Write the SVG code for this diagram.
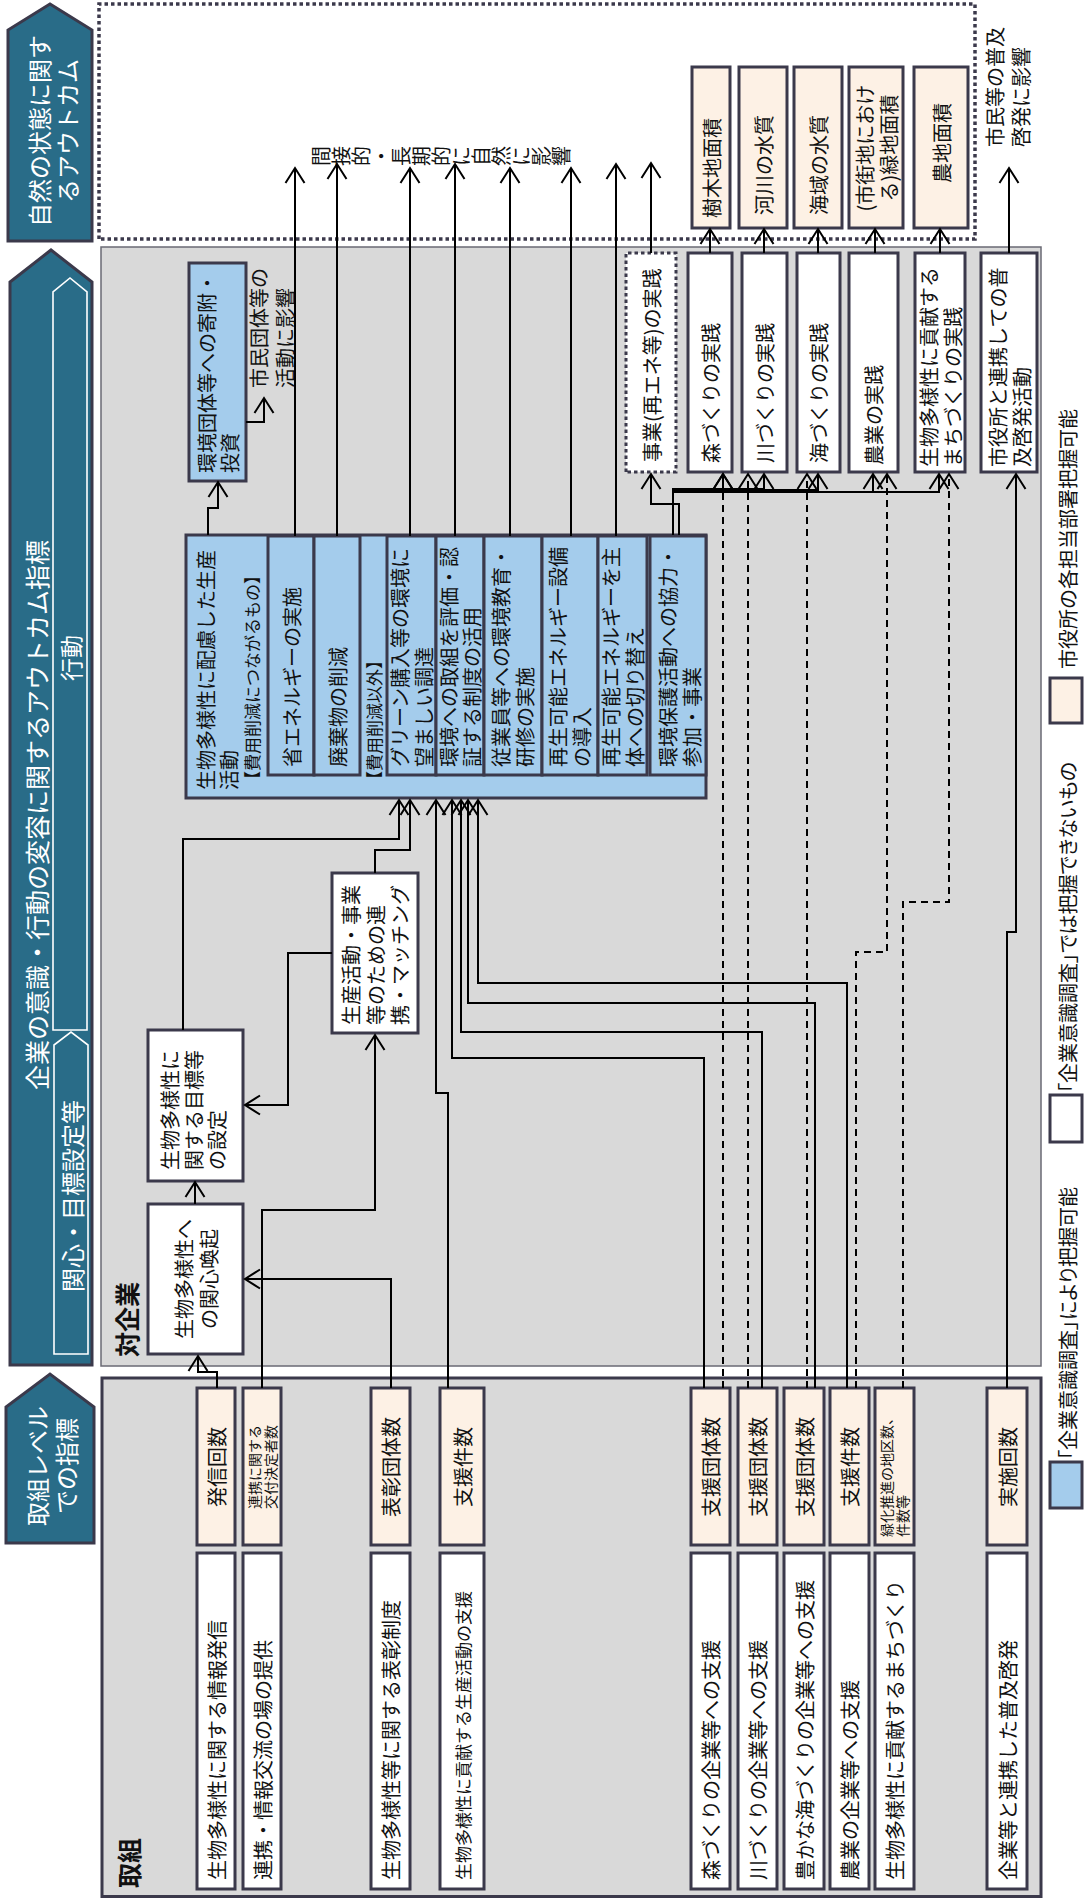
<svg xmlns="http://www.w3.org/2000/svg" width="1084" height="1898" viewBox="0 0 1084 1898">
<defs>
<style>
.t{font-family:"Noto Sans CJK JP","Noto Sans CJK SC",sans-serif;font-size:20px;fill:#111;dominant-baseline:central}
.wt{fill:#fff;text-anchor:middle;font-size:24px}
.m{text-anchor:middle}
.bd{font-weight:bold;font-size:25px}
.sm{font-size:17px}
.xs{font-size:14px}
.pa{font-feature-settings:"palt"}
.bx{stroke:#3b394b;stroke-width:3}
.w{fill:#fff}.b{fill:#a4ccec}.p{fill:#fdf1e5}
.hd{fill:#296c88;stroke:#3b394b;stroke-width:3}
.in{fill:none;stroke:#fff;stroke-width:1.6}
.c{fill:none;stroke:#000;stroke-width:2;marker-end:url(#ah)}
.d{stroke-dasharray:7 5}
.dot{stroke-dasharray:3.5 3}
</style>
<marker id="ah" markerUnits="userSpaceOnUse" markerWidth="18" markerHeight="22" viewBox="0 0 18 22" refX="16" refY="11" orient="auto">
<path d="M1,1.5 L16,11 L1,20.5" fill="none" stroke="#000" stroke-width="2"/>
</marker>
</defs>
<rect width="1084" height="1898" fill="#fff"/>
<g transform="matrix(0,-1,1,0,0,1898)">
<g id="area-outcome"><rect x="1659" y="99" width="235" height="876" fill="#fff" stroke="#3b394b" stroke-width="3.5" class="dot"/></g>
<g id="area-company"><rect x="532" y="101" width="1119" height="940" fill="#d9d9d9" stroke="#6a6a74" stroke-width="1.5"/><text class="t bd" x="541" y="126">対企業</text></g>
<g id="area-initiative"><rect x="1.5" y="102" width="518.5" height="939" fill="#d9d9d9" class="bx"/><text class="t bd" x="10" y="128">取組</text></g>

<g id="h-nature"><polygon class="hd" points="1657,8 1868,8 1894,50 1868,92 1657,92"/><text class="t wt"><tspan x="1767" y="38">自然の状態に関す</tspan><tspan x="1767" y="66">るアウトカム</tspan></text></g>
<g id="h-company"><polygon class="hd" points="533,10 1616,10 1648,51 1616,92 533,92"/><polygon class="in" points="868,53 1606,53 1620,70 1606,87 868,87"/><polygon class="in" points="544,54 853,54 866,71 853,88 544,88"/><text class="t wt" x="1083" y="36" style="font-size:25px">企業の意識・行動の変容に関するアウトカム指標</text><text class="t wt" x="1240" y="70" style="font-size:23px">行動</text><text class="t wt" x="702" y="71">関心・目標設定等</text></g>
<g id="h-initiative"><polygon class="hd" points="355,6 491,6 524,50 491,94 355,94"/><text class="t wt"><tspan x="432" y="36">取組レベル</tspan><tspan x="432" y="65">での指標</tspan></text></g>

<g id="n-production"><rect class="bx b" x="1100" y="186" width="263" height="520"/><text class="t"><tspan x="1108" y="205">生物多様性に配慮した生産</tspan><tspan x="1108" y="228">活動</tspan></text><text class="t sm" x="1110" y="251">【費用削減につながるもの】</text><text class="t sm" x="1110" y="373">【費用削減以外】</text></g>
<g id="n-energy"><rect class="bx b" x="1123" y="268" width="239" height="46"/><text class="t" x="1131" y="291">省エネルギーの実施</text></g>
<g id="n-waste"><rect class="bx b" x="1123" y="314" width="239" height="46"/><text class="t" x="1131" y="337">廃棄物の削減</text></g>
<g id="n-green"><rect class="bx b" x="1123" y="387" width="239" height="49"/><text class="t"><tspan x="1131" y="399">グリーン購入等の環境に</tspan><tspan x="1131" y="423">望ましい調達</tspan></text></g>
<g id="n-cert"><rect class="bx b" x="1123" y="436" width="239" height="48"/><text class="t"><tspan x="1131" y="448">環境への取組を評価・認</tspan><tspan x="1131" y="471">証する制度の活用</tspan></text></g>
<g id="n-edu"><rect class="bx b" x="1123" y="484" width="239" height="58"/><text class="t"><tspan x="1131" y="500">従業員等への環境教育・</tspan><tspan x="1131" y="524">研修の実施</tspan></text></g>
<g id="n-re-equip"><rect class="bx b" x="1123" y="542" width="239" height="56"/><text class="t"><tspan x="1131" y="557">再生可能エネルギー設備</tspan><tspan x="1131" y="581">の導入</tspan></text></g>
<g id="n-re-switch"><rect class="bx b" x="1123" y="598" width="239" height="49"/><text class="t"><tspan x="1131" y="610">再生可能エネルギーを主</tspan><tspan x="1131" y="634">体への切り替え</tspan></text></g>
<g id="n-conserve"><rect class="bx b" x="1123" y="650" width="239" height="56"/><text class="t"><tspan x="1131" y="667">環境保護活動への協力・</tspan><tspan x="1131" y="691">参加・事業</tspan></text></g>
<g id="n-donation"><rect class="bx b" x="1417" y="189" width="218" height="57"/><text class="t"><tspan x="1425" y="206">環境団体等への寄附・</tspan><tspan x="1425" y="229">投資</tspan></text></g>

<g id="n-interest"><rect class="bx w" x="544" y="148" width="150" height="95"/><text class="t m"><tspan x="619" y="183">生物多様性へ</tspan><tspan x="619" y="208">の関心喚起</tspan></text></g>
<g id="n-target"><rect class="bx w" x="717" y="148" width="151" height="95"/><text class="t"><tspan x="728" y="169">生物多様性に</tspan><tspan x="728" y="193">関する目標等</tspan><tspan x="728" y="216">の設定</tspan></text></g>
<g id="n-matching"><rect class="bx w" x="865" y="332" width="160" height="86"/><text class="t"><tspan x="873" y="350">生産活動・事業</tspan><tspan x="873" y="375">等のための連</tspan><tspan x="873" y="399">携・マッチング</tspan></text></g>

<g id="n-business"><rect class="bx w dot" x="1426" y="626" width="219" height="50"/><text class="t" x="1436" y="651">事業(再エネ等)の実践</text></g>
<g id="n-forest"><rect class="bx w" x="1426" y="688" width="219" height="44"/><text class="t" x="1435" y="710">森づくりの実践</text></g>
<g id="n-river"><rect class="bx w" x="1426" y="742" width="219" height="45"/><text class="t" x="1435" y="764">川づくりの実践</text></g>
<g id="n-sea"><rect class="bx w" x="1426" y="797" width="219" height="43"/><text class="t" x="1435" y="818">海づくりの実践</text></g>
<g id="n-farm"><rect class="bx w" x="1426" y="849" width="219" height="49"/><text class="t" x="1433" y="873">農業の実践</text></g>
<g id="n-town"><rect class="bx w" x="1426" y="915" width="219" height="50"/><text class="t"><tspan x="1431" y="928">生物多様性に貢献する</tspan><tspan x="1431" y="952">まちづくりの実践</tspan></text></g>
<g id="n-city"><rect class="bx w" x="1426" y="981" width="219" height="56"/><text class="t"><tspan x="1431" y="997">市役所と連携しての普</tspan><tspan x="1431" y="1021">及啓発活動</tspan></text></g>

<g id="o-tree"><rect class="bx p" x="1670" y="692" width="161" height="38"/><text class="t" x="1680" y="711">樹木地面積</text></g>
<g id="o-river"><rect class="bx p" x="1670" y="739" width="161" height="48"/><text class="t" x="1683" y="763">河川の水質</text></g>
<g id="o-sea"><rect class="bx p" x="1670" y="794" width="161" height="48"/><text class="t" x="1683" y="818">海域の水質</text></g>
<g id="o-green"><rect class="bx p" x="1670" y="849" width="161" height="54"/><text class="t m"><tspan x="1750" y="864">(市街地におけ</tspan><tspan x="1750" y="888">る)緑地面積</tspan></text></g>
<g id="o-farm"><rect class="bx p" x="1670" y="914" width="161" height="54"/><text class="t m" x="1755" y="941">農地面積</text></g>

<g id="lbl-citizen"><text class="t"><tspan x="1751" y="994">市民等の普及</tspan><tspan x="1751" y="1020">啓発に影響</tspan></text></g>
<g id="lbl-group"><text class="t"><tspan x="1510" y="258">市民団体等の</tspan><tspan x="1510" y="284">活動に影響</tspan></text></g>
<g id="lbl-indirect"><text class="t m"><tspan x="1742" y="320">間</tspan><tspan x="1742" y="340">接</tspan><tspan x="1742" y="360">的</tspan><tspan x="1742" y="380">・</tspan><tspan x="1742" y="400">長</tspan><tspan x="1742" y="420">期</tspan><tspan x="1742" y="440">的</tspan><tspan x="1742" y="460">に</tspan><tspan x="1742" y="480">自</tspan><tspan x="1742" y="500">然</tspan><tspan x="1742" y="520">に</tspan><tspan x="1742" y="540">影</tspan><tspan x="1742" y="560">響</tspan></text></g>

<g id="a-info"><rect class="bx w" x="9" y="197" width="336" height="38"/><text class="t" x="18" y="216">生物多様性に関する情報発信</text></g>
<g id="a-exchange"><rect class="bx w" x="9" y="243" width="336" height="38"/><text class="t" x="18" y="262">連携・情報交流の場の提供</text></g>
<g id="a-award"><rect class="bx w" x="9" y="371" width="336" height="39"/><text class="t" x="18" y="390">生物多様性等に関する表彰制度</text></g>
<g id="a-prodsupport"><rect class="bx w" x="9" y="440" width="336" height="44"/><text class="t sm" x="18" y="462">生物多様性に貢献する生産活動の支援</text></g>
<g id="a-forest"><rect class="bx w" x="9" y="691" width="336" height="39"/><text class="t" x="18" y="710">森づくりの企業等への支援</text></g>
<g id="a-river"><rect class="bx w" x="9" y="738" width="336" height="39"/><text class="t" x="18" y="757">川づくりの企業等への支援</text></g>
<g id="a-sea"><rect class="bx w" x="9" y="784" width="336" height="40"/><text class="t" x="18" y="804">豊かな海づくりの企業等への支援</text></g>
<g id="a-farm"><rect class="bx w" x="9" y="830" width="336" height="39"/><text class="t" x="18" y="849">農業の企業等への支援</text></g>
<g id="a-town"><rect class="bx w" x="9" y="875" width="336" height="39"/><text class="t" x="18" y="894">生物多様性に貢献するまちづくり</text></g>
<g id="a-pr"><rect class="bx w" x="9" y="987" width="336" height="40"/><text class="t" x="18" y="1007">企業等と連携した普及啓発</text></g>

<g id="i-send"><rect class="bx p" x="353" y="197" width="157" height="38"/><text class="t m" x="431" y="216">発信回数</text></g>
<g id="i-grant"><rect class="bx p" x="353" y="243" width="157" height="38"/><text class="t m xs"><tspan x="431" y="254">連携に関する</tspan><tspan x="431" y="270">交付決定者数</tspan></text></g>
<g id="i-award"><rect class="bx p" x="353" y="371" width="157" height="39"/><text class="t m" x="431" y="390">表彰団体数</text></g>
<g id="i-prod"><rect class="bx p" x="353" y="440" width="157" height="44"/><text class="t m" x="431" y="462">支援件数</text></g>
<g id="i-forest"><rect class="bx p" x="353" y="691" width="157" height="39"/><text class="t m" x="431" y="710">支援団体数</text></g>
<g id="i-river"><rect class="bx p" x="353" y="738" width="157" height="39"/><text class="t m" x="431" y="757">支援団体数</text></g>
<g id="i-sea"><rect class="bx p" x="353" y="784" width="157" height="40"/><text class="t m" x="431" y="804">支援団体数</text></g>
<g id="i-farm"><rect class="bx p" x="353" y="830" width="157" height="39"/><text class="t m" x="431" y="849">支援件数</text></g>
<g id="i-town"><rect class="bx p" x="353" y="875" width="157" height="39"/><text class="t xs"><tspan x="361" y="886">緑化推進の地区数、</tspan><tspan x="361" y="902">件数等</tspan></text></g>
<g id="i-pr"><rect class="bx p" x="353" y="987" width="157" height="40"/><text class="t m" x="431" y="1007">実施回数</text></g>

<g id="legend">
<rect class="bx b" x="390" y="1050" width="46" height="32"/><text class="t pa" x="438" y="1067">「企業意識調査」により把握可能</text>
<rect class="bx w" x="756" y="1050" width="47" height="32"/><text class="t pa" x="805" y="1067">「企業意識調査」では把握できないもの</text>
<rect class="bx p" x="1175" y="1050" width="45" height="32"/><text class="t" x="1229" y="1067">市役所の各担当部署把握可能</text>
</g>

<g id="connectors">
<path class="c" d="M510 217 H526 V198 H542"/>
<path class="c" d="M510 262 H688 V375 H863"/>
<path class="c" d="M510 391 H619 V245"/>
<path class="c" d="M510 448 H805 V436 H1098"/>
<path class="c" d="M694 195 H716"/>
<path class="c" d="M945 332 V288 H793 V245"/>
<path class="c" d="M868 183 H1059 V399 H1098"/>
<path class="c" d="M1025 375 H1048 V410 H1098"/>
<path class="c" d="M510 704 H840 V452 H1098"/>
<path class="c" d="M510 762 H866 V461 H1098"/>
<path class="c" d="M510 815 H895 V468 H1098"/>
<path class="c" d="M510 847 H915 V478 H1098"/>
<path class="c" d="M510 1007 H966 V1016 H1424"/>
<path class="c" d="M1645 1009 H1730"/>
<path class="c" d="M1645 710 H1669"/>
<path class="c" d="M1645 764 H1669"/>
<path class="c" d="M1645 818 H1669"/>
<path class="c" d="M1645 875 H1669"/>
<path class="c" d="M1645 940 H1669"/>
<path class="c" d="M1645 651 H1735"/>
<path class="c" d="M1363 679 H1394 V651 H1424"/>
<path class="c" d="M1363 673 H1409 V723 H1424"/>
<path class="c" d="M1363 673 H1409 V764 H1424"/>
<path class="c" d="M1363 673 H1408 V818 H1424"/>
<path class="c" d="M1363 673 H1406 V873 H1424"/>
<path class="c" d="M1363 673 H1406 V939 H1424"/>
<path class="c d" d="M510 723 H1424"/>
<path class="c d" d="M510 748 H1424"/>
<path class="c d" d="M510 807 H1424"/>
<path class="c d" d="M510 856 H946 V887 H1424"/>
<path class="c d" d="M510 903 H996 V949 H1424"/>
<path class="c" d="M1363 208 H1390 V218 H1416"/>
<path class="c" d="M1476 246 V264 H1500"/>
<path class="c" d="M1362 295 H1730"/>
<path class="c" d="M1362 337 H1734"/>
<path class="c" d="M1362 410 H1730"/>
<path class="c" d="M1362 455 H1734"/>
<path class="c" d="M1362 510 H1730"/>
<path class="c" d="M1362 571 H1730"/>
<path class="c" d="M1362 616 H1734"/>
</g>
</g>
</svg>
